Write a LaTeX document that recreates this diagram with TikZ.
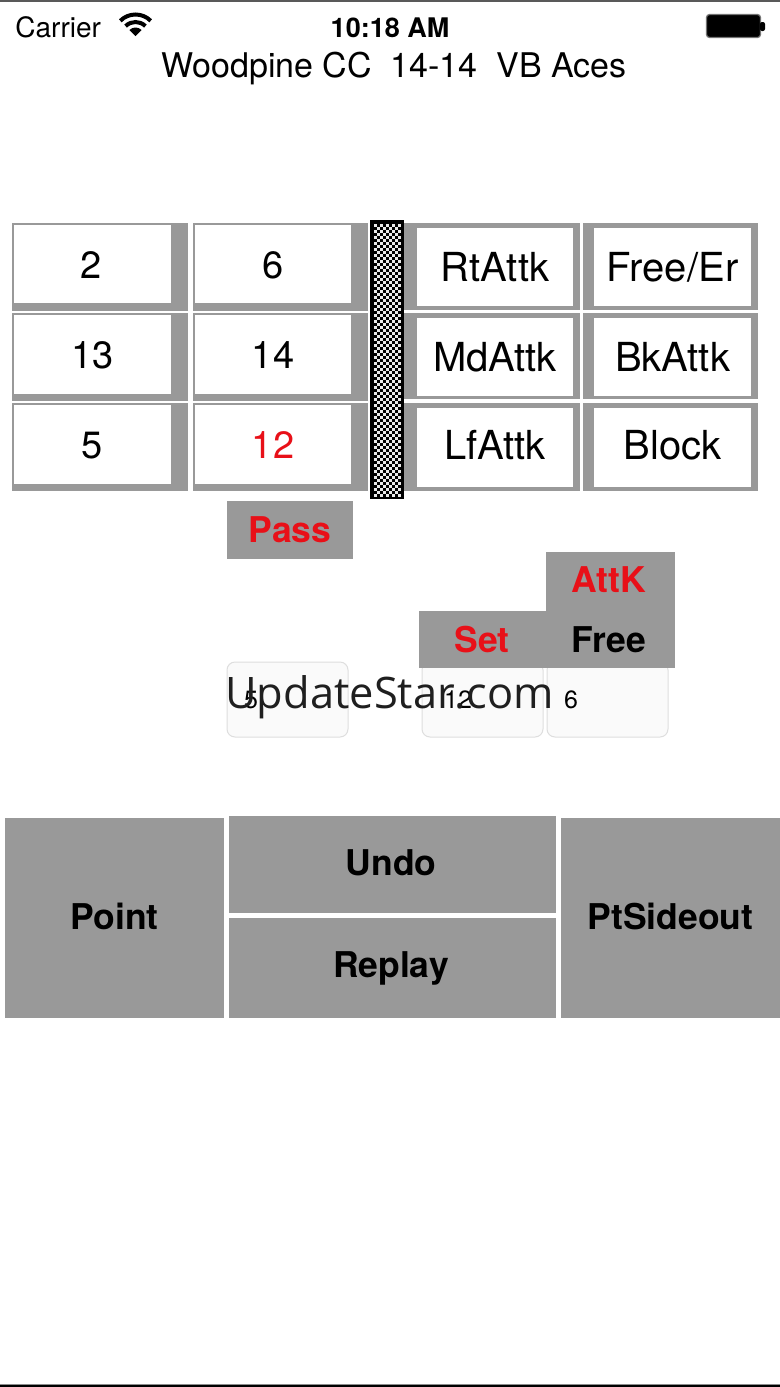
\documentclass[tikz,border=0pt]{standalone}
\usepackage{fontspec}
\setmainfont{TeX Gyre Heros}
\newfontfamily\wmfont{Open Sans}
\definecolor{uigray}{RGB}{153,153,153}
\definecolor{uired}{RGB}{232,16,24}
\begin{document}
\begin{tikzpicture}[x=0.5pt,y=-0.5pt,
  num/.style={font=\fontsize{19}{22}\selectfont, anchor=base, inner sep=0pt},
  lbl/.style={font=\fontsize{20}{24}\selectfont, anchor=base, inner sep=0pt},
  btn/.style={font=\bfseries\fontsize{17.75}{21}\selectfont, anchor=base, inner sep=0pt},
  smalltxt/.style={font=\fontsize{12.5}{15}\selectfont, anchor=base, inner sep=0pt},
  lightbox/.style={draw=black!13, fill=black!2, line width=0.5pt, rounded corners=4pt},
  redtxt/.style={text=uired}]
\useasboundingbox (0,0) rectangle (780,1387);
\fill[white] (0,0) rectangle (780,1387);
% top and bottom edge lines
\fill[black!65] (0,0) rectangle (780,1.5);
\fill[black!45] (0,1384) rectangle (780,1385.3);
\fill[black] (0,1385.3) rectangle (780,1387);

% status bar
\node[anchor=base west, inner sep=0pt, font=\fontsize{14}{16}\selectfont] (carrier) at (15,37) {Carrier};
\coordinate (wifi) at (135.5,36);
\fill (wifi) -- ++(225:8.5) arc[start angle=225, end angle=315, radius=8.5] -- cycle;
\draw[line width=2pt] (wifi) ++(225:14) arc[start angle=225, end angle=315, radius=14];
\draw[line width=2pt] (wifi) ++(225:21.5) arc[start angle=225, end angle=315, radius=21.5];
\node[anchor=base, inner sep=0pt, font=\bfseries\fontsize{13.5}{16}\selectfont] (time) at (390,37) {10:18 AM};
\draw[draw=black!55, fill=black, line width=0.6pt, rounded corners=1.5pt] (706.5,14.5) rectangle (760.5,37.5);
\fill[rounded corners=1pt] (760,22) rectangle (765,31);

% title
\node[anchor=base, inner sep=0pt, font=\fontsize{17}{20}\selectfont] (title) at (394,77) {Woodpine CC\ \ 14-14\ \ VB Aces};

% left grid
\foreach \ga/\gb/\wa/\wb in {223/311/225/303, 313/401/315/394, 403/491/405/484} {
  \fill[uigray] (12,\ga) rectangle (188,\gb);
  \fill[white] (14,\wa) rectangle (171,\wb);
  \fill[uigray] (193,\ga) rectangle (368,\gb);
  \fill[white] (195,\wa) rectangle (351,\wb);
}
% right grid
\foreach \ga/\gb/\wa/\wb in {223/310/228/306, 313/399/318/396, 403/491/408/487} {
  \fill[uigray] (404,\ga) rectangle (580,\gb);
  \fill[white] (417,\wa) rectangle (573,\wb);
  \fill[uigray] (583,\ga) rectangle (758,\gb);
  \fill[white] (594,\wa) rectangle (751,\wb);
}
% checkered bar
\fill[black] (370,220) rectangle (404,499);
\foreach \xx in {374,380,...,398} \foreach \yy in {224,230,...,494}
  \fill[white!92!black] (\xx,\yy) rectangle ++(2.6,2.6);
\foreach \xx in {377,383,...,395} \foreach \yy in {227,233,...,491}
  \fill[white!92!black] (\xx,\yy) rectangle ++(2.6,2.6);

\node[num] (n2) at (91.5,278) {2};
\node[num] (n6) at (273,278) {6};
\node[num] (n13) at (92.5,368) {13};
\node[num] (n14) at (273,368) {14};
\node[num] (n5) at (92.5,458) {5};
\node[num, redtxt] (n12) at (273,458) {12};
\node[lbl] (rt) at (495,281) {RtAttk};
\node[lbl] (fe) at (672.5,281) {Free/Er};
\node[lbl] (md) at (495,371) {MdAttk};
\node[lbl] (bk) at (672.5,371) {BkAttk};
\node[lbl] (lf) at (495,459) {LfAttk};
\node[lbl] (bl) at (672.5,459) {Block};

% pass
\fill[uigray] (227,501) rectangle (353,559);
\node[btn, redtxt] (pass) at (290,542) {Pass};

% light buttons
\draw[lightbox] (227,662) rectangle (348,737);
\draw[lightbox] (422,662) rectangle (543,737);
\draw[lightbox] (547,662) rectangle (668,737);
\node[smalltxt] (s5) at (251,708) {5};
\node[smalltxt] (s12) at (458,708) {12};
\node[smalltxt] (s6) at (571,708) {6};

% set / attk
\fill[uigray] (546,552) rectangle (675,668);
\fill[uigray] (419,611) rectangle (546,668);
\node[btn, redtxt] (attk) at (609,592) {AttK};
\node[btn] (free) at (609,652) {Free};
\node[btn, redtxt] (set) at (482,652) {Set};

% watermark
\node[anchor=base west, inner sep=0pt, font=\wmfont\fontsize{21.7}{25}\selectfont, text=black!88] (wm) at (225,708) {UpdateStar.com};

% bottom buttons
\fill[uigray] (5,818) rectangle (224,1018);
\fill[uigray] (229,816) rectangle (556,913);
\fill[uigray] (229,918) rectangle (556,1018);
\fill[uigray] (561,818) rectangle (780,1018);
\node[btn] (point) at (114.5,929) {Point};
\node[btn] (undo) at (391,875) {Undo};
\node[btn] (replay) at (391,977) {Replay};
\node[btn] (pts) at (670.5,929) {PtSideout};
\end{tikzpicture}
\end{document}
